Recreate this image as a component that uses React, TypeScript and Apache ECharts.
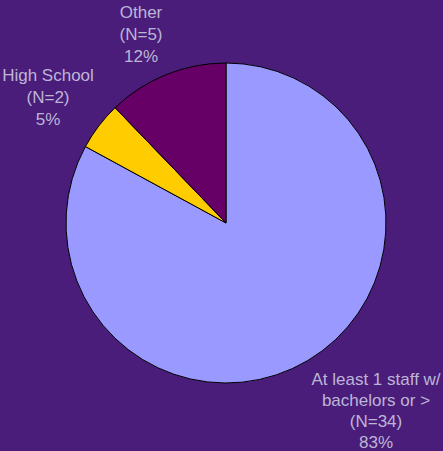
import React, { useEffect, useRef } from "react";
import * as echarts from "echarts";

const categories = ["At least 1 staff w/\nbachelors or >", "High School", "Other"];
const counts = [34, 2, 5];
const percents = ["83%", "5%", "12%"];
const colors = ["#9999FF", "#FFCC00", "#660066"];

// label block top-centers and line pitch (layout only)
const labelPos = [
  { x: 376, y: 370.5, pitch: 21 },
  { x: 48, y: 67, pitch: 22 },
  { x: 141, y: 3.5, pitch: 22 },
];

export default function App() {
  const ref = useRef<HTMLDivElement>(null);
  useEffect(() => {
    if (!ref.current) return;
    const chart = echarts.init(ref.current, null, { renderer: "svg" });
    const labels: any[] = [];
    categories.forEach((c, i) => {
      const lines = [...c.split("\n"), `(N=${counts[i]})`, percents[i]];
      lines.forEach((l, j) => {
        labels.push({
          type: "text",
          x: labelPos[i].x,
          y: labelPos[i].y + j * labelPos[i].pitch,
          style: {
            text: l,
            fill: "#BDB5D6",
            font: "17px 'Liberation Sans', Arial, sans-serif",
            align: "center",
            verticalAlign: "top",
          },
        });
      });
    });
    chart.setOption({
      animation: false,
      backgroundColor: "#4A1D7A",
      graphic: labels,
      series: [
        {
          type: "pie",
          center: [226, 223],
          radius: 160,
          startAngle: 90,
          clockwise: true,
          itemStyle: { borderColor: "#000000", borderWidth: 1 },
          label: { show: false },
          labelLine: { show: false },
          emphasis: { disabled: true },
          data: categories.map((c, i) => ({
            name: c,
            value: counts[i],
            itemStyle: { color: colors[i] },
          })),
        },
      ],
    });
    return () => chart.dispose();
  }, []);
  return (
    <div
      ref={ref}
      style={{ position: "fixed", left: 0, top: 0, width: 443, height: 451 }}
    />
  );
}
